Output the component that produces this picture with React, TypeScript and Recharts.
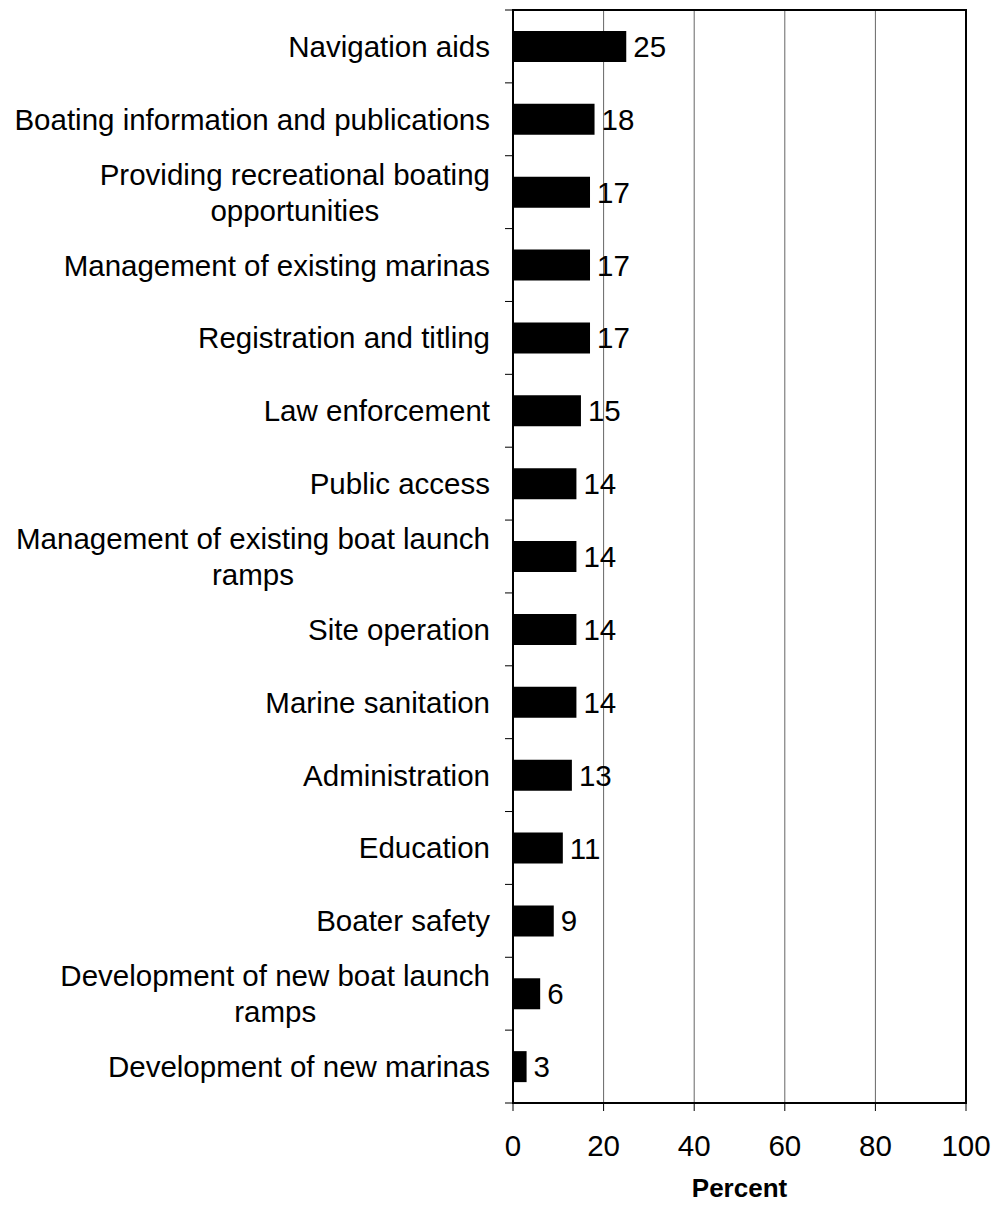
import React from "react";
import {
  BarChart,
  Bar,
  XAxis,
  YAxis,
  CartesianGrid,
  ReferenceArea,
  LabelList,
} from "recharts";

// categories top to bottom, values in percent
const categories: string[] = [
  "Navigation aids",
  "Boating information and publications",
  "Providing recreational boating opportunities",
  "Management of existing marinas",
  "Registration and titling",
  "Law enforcement",
  "Public access",
  "Management of existing boat launch ramps",
  "Site operation",
  "Marine sanitation",
  "Administration",
  "Education",
  "Boater safety",
  "Development of new boat launch ramps",
  "Development of new marinas",
];

const percents: number[] = [25, 18, 17, 17, 17, 15, 14, 14, 14, 14, 13, 11, 9, 6, 3];

const xTicks: number[] = [0, 20, 40, 60, 80, 100];

const data = categories.map((name, i) => ({ name, value: percents[i] }));

const FONT = '"Liberation Sans", Arial, Helvetica, sans-serif';
const FONT_SIZE = 29.5;
const MAX_LINE = 495;

let ctx: CanvasRenderingContext2D | null = null;
function measure(s: string): number {
  if (!ctx) {
    ctx = document.createElement("canvas").getContext("2d");
  }
  if (!ctx) return s.length * FONT_SIZE * 0.5;
  ctx.font = `${FONT_SIZE}px ${FONT}`;
  return ctx.measureText(s).width;
}

function wrap(text: string): string[] {
  const words = text.split(" ");
  const lines: string[] = [];
  let cur = "";
  for (const w of words) {
    const next = cur ? cur + " " + w : w;
    if (cur && measure(next) > MAX_LINE) {
      lines.push(cur);
      cur = w;
    } else {
      cur = next;
    }
  }
  if (cur) lines.push(cur);
  return lines;
}

// category label (centred lines, right aligned block) plus the boundary tick marks
function CategoryTick(props: any) {
  const { x, y, payload, index } = props;
  const half = payload?.offset ?? 36;
  const lines = wrap(String(payload.value));
  const blockW = Math.max(...lines.map(measure));
  const cx = x - blockW / 2;
  const lh = 36;
  const top = y - ((lines.length - 1) * lh) / 2;
  const axisX = x + 23;
  return (
    <g>
      {lines.map((l, i) => (
        <text
          key={i}
          x={cx}
          y={top + i * lh}
          dy="0.355em"
          textAnchor="middle"
          fontSize={FONT_SIZE}
          fontFamily={FONT}
          fill="#000"
        >
          {l}
        </text>
      ))}
      <line x1={axisX - 8} x2={axisX} y1={y - half} y2={y - half} stroke="#000" strokeWidth={1} />
      {index === categories.length - 1 && (
        <line x1={axisX - 8} x2={axisX} y1={y + half} y2={y + half} stroke="#000" strokeWidth={1} />
      )}
    </g>
  );
}

export default function App() {
  return (
    <div style={{ position: "absolute", left: 0, top: 0 }}>
      <BarChart
        width={994}
        height={1209}
        data={data}
        layout="vertical"
        margin={{ top: 10, right: 28, left: 0, bottom: 0 }}
        style={{ fontFamily: FONT }}
      >
        <CartesianGrid horizontal={false} stroke="#666" strokeWidth={1} />
        <XAxis
          type="number"
          domain={[0, 100]}
          ticks={xTicks}
          height={106}
          axisLine={{ stroke: "#000", strokeWidth: 2 }}
          tickLine={{ stroke: "#000" }}
          tickSize={8}
          tickMargin={24}
          tick={{ fontSize: FONT_SIZE, fill: "#000", fontFamily: FONT }}
          label={{
            value: "Percent",
            position: "insideBottom",
            offset: 12,
            fontSize: 26,
            fontWeight: "bold",
            fill: "#000",
            fontFamily: FONT,
          }}
        />
        <YAxis
          type="category"
          dataKey="name"
          width={513}
          interval={0}
          axisLine={{ stroke: "#000", strokeWidth: 2 }}
          tickLine={false}
          tickSize={8}
          tickMargin={15}
          tick={<CategoryTick />}
        />
        <Bar dataKey="value" fill="#000" barSize={31} isAnimationActive={false}>
          <LabelList
            dataKey="value"
            position="right"
            offset={7}
            fontSize={FONT_SIZE}
            fill="#000"
            fontFamily={FONT}
          />
        </Bar>
        <ReferenceArea x1={0} x2={100} fill="none" stroke="#000" strokeWidth={2} />
      </BarChart>
    </div>
  );
}
